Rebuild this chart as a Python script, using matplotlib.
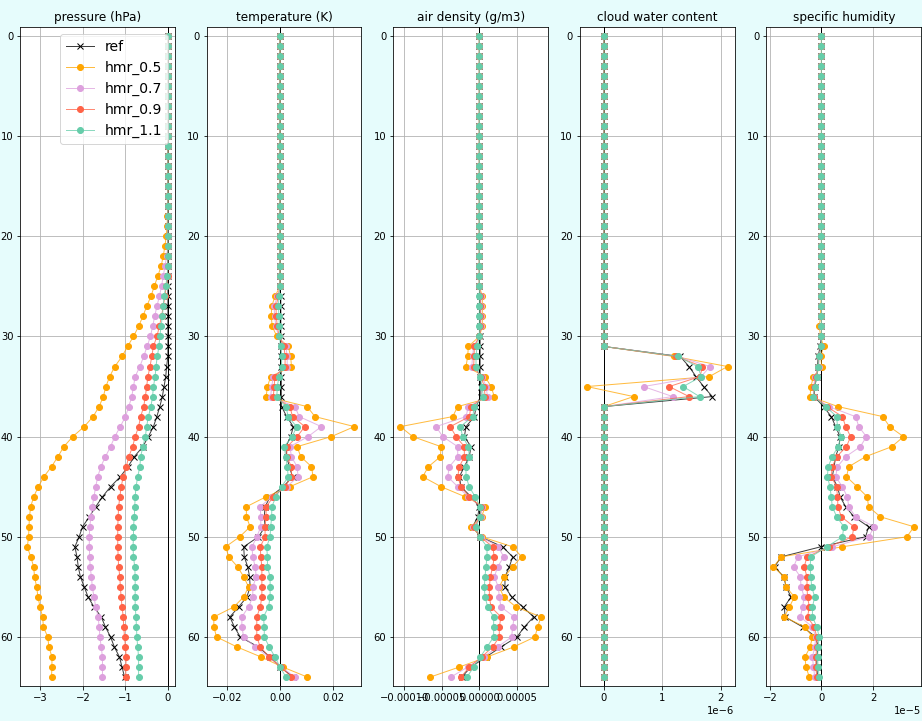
import matplotlib
matplotlib.use("Agg")
import numpy as np
import matplotlib.pyplot as plt
from matplotlib.colors import to_rgba

levels = np.arange(65)
labels = ["ref", "hmr_0.5", "hmr_0.7", "hmr_0.9", "hmr_1.1"]
colors = ["black", "orange", "plum", "tomato", "mediumaquamarine"]

# pressure difference (hPa)
p_ref = [0.0] * 33 + [
    -0.03, -0.05, -0.09, -0.13, -0.19, -0.26, -0.34, -0.46, -0.59, -0.79,
    -0.94, -1.12, -1.35, -1.54, -1.70, -1.85, -2.01, -2.09, -2.19, -2.14,
    -2.11, -2.06, -1.97, -1.88, -1.74, -1.57, -1.47, -1.35, -1.26, -1.14,
    -1.08, -1.02]
p_05 = [0.0] * 18 + [
    -0.01, -0.02, -0.04, -0.07, -0.11, -0.16, -0.24, -0.32, -0.40, -0.50,
    -0.59, -0.69, -0.81, -0.95, -1.08, -1.25, -1.37, -1.46, -1.52, -1.62,
    -1.76, -1.97, -2.24, -2.45, -2.59, -2.74, -2.92, -3.05, -3.16, -3.23,
    -3.26, -3.27, -3.28, -3.31, -3.23, -3.16, -3.14, -3.09, -3.06, -3.01,
    -2.95, -2.93, -2.83, -2.80, -2.73, -2.73, -2.74]
p_07 = [0.0] * 22 + [
    -0.03, -0.07, -0.11, -0.15, -0.20, -0.26, -0.31, -0.36, -0.41, -0.49,
    -0.57, -0.66, -0.77, -0.81, -0.85, -0.92, -1.00, -1.12, -1.25, -1.35,
    -1.47, -1.58, -1.65, -1.70, -1.74, -1.78, -1.81, -1.84, -1.85, -1.85,
    -1.84, -1.83, -1.80, -1.78, -1.74, -1.70, -1.64, -1.62, -1.60, -1.57,
    -1.54, -1.54, -1.54]
p_09 = [0.0] * 25 + [
    -0.04, -0.07, -0.11, -0.15, -0.20, -0.26, -0.34, -0.38, -0.42, -0.47,
    -0.50, -0.53, -0.57, -0.64, -0.69, -0.77, -0.83, -0.92, -0.98, -1.05,
    -1.10, -1.13, -1.16, -1.17, -1.18, -1.18, -1.18, -1.17, -1.16, -1.13,
    -1.12, -1.10, -1.08, -1.05, -1.04, -1.02, -1.00, -0.98, -0.99, -0.99]
p_11 = [0.0] * 24 + [
    -0.02, -0.05, -0.09, -0.11, -0.13, -0.16, -0.19, -0.21, -0.25, -0.28,
    -0.30, -0.34, -0.36, -0.40, -0.46, -0.50, -0.53, -0.59, -0.64, -0.66,
    -0.71, -0.75, -0.77, -0.78, -0.79, -0.81, -0.81, -0.82, -0.81, -0.78,
    -0.77, -0.77, -0.77, -0.77, -0.75, -0.74, -0.73, -0.71, -0.69, -0.69,
    -0.69]

# temperature difference, in 1e-3 K
t_scale = 1e-3
t_ref = [0.0] * 26 + [
    0.3, 0.3, 0.3, 0.3, 0.3, 0.3, 0.3, 0.3, 0.5, 0.5,
    0.5, 0.6, 2.5, 5.0, 4.0, 2.2, 2.5, 3.5, 4.7, 1.2,
    -3.7, -5.6, -5.9, -5.6, -8.1, -13.6, -13.4, -12.1, -11.4, -11.2,
    -12.4, -15.5, -18.8, -17.1, -14.9, -8.1, -3.7, 0.0, 5.0]
t_05 = [0.0] * 26 + [
    -1.9, -3.1, -3.3, -2.9, -1.2, 3.1, 4.0, 4.3, -3.5, -4.7,
    -5.2, 10.2, 13.1, 27.9, 19.2, 6.4, 7.8, 11.8, 12.4, 3.7,
    -5.2, -12.6, -12.6, -11.2, -15.1, -20.4, -19.2, -15.9, -13.6, -11.8,
    -13.6, -17.3, -24.8, -24.8, -23.8, -16.1, -7.1, 1.0, 10.2]
t_07 = [0.0] * 26 + [
    -1.0, -2.2, -2.0, -1.5, -0.5, 2.2, 2.7, 2.7, -2.5, -3.1,
    -3.5, 5.6, 7.2, 15.5, 10.5, 3.7, 4.3, 6.4, 6.8, 2.5,
    -3.1, -7.4, -7.2, -7.2, -8.7, -10.5, -10.2, -9.3, -8.9, -10.2,
    -10.2, -11.8, -14.3, -14.3, -13.6, -9.3, -4.3, 0.4, 5.6]
t_09 = [0.0] * 26 + [
    -0.6, -1.5, -1.4, -1.0, -0.3, 1.5, 1.9, 1.9, -1.9, -2.2,
    -2.5, 3.7, 4.7, 9.3, 6.4, 2.7, 2.5, 4.3, 4.3, 1.9,
    -2.5, -5.2, -5.2, -5.6, -5.6, -7.4, -7.2, -6.8, -6.8, -6.8,
    -6.8, -7.4, -8.7, -8.7, -8.7, -7.4, -4.0, 0.4, 4.3]
t_11 = [0.0] * 26 + [
    -0.4, -0.6, -0.4, -0.2, -0.2, 0.2, 0.6, 0.6, -0.4, -1.0,
    -1.2, 2.2, 3.1, 6.2, 4.6, 1.5, 2.2, 2.7, 3.1, 0.6,
    -1.5, -3.1, -3.1, -3.5, -3.7, -5.0, -4.7, -4.7, -3.7, -3.7,
    -3.7, -4.3, -6.2, -5.9, -5.9, -4.0, -1.9, 0.0, 2.2]

# air density difference, in 1e-5 g/m3
rho_scale = 1e-5
rho_ref = [0.0] * 26 + [
    0.1, 0.1, 0.1, 0.1, 0.1, 0.1, 0.1, 0.1, 0.1, 0.2,
    0.2, -0.44, -0.66, -1.77, -1.99, -1.11, -1.33, -1.99, -2.65, -2.43,
    -1.11, 0.0, -0.22, -0.88, 0.13, 3.09, 4.42, 3.98, 3.40, 3.40,
    4.29, 5.75, 7.21, 5.97, 5.00, 2.87, 0.88, -1.11, -2.34]
rho_05 = [0.0] * 26 + [
    0.4, 0.4, 0.4, 0.4, 0.0, -1.46, -1.55, -1.77, 0.75, 1.55,
    1.99, -2.87, -3.54, -10.48, -8.84, -5.08, -5.17, -6.76, -7.52, -5.08,
    -1.90, 0.75, 0.31, -1.11, 0.31, 4.42, 5.61, 4.42, 3.32, 2.65,
    3.23, 4.86, 8.18, 7.74, 7.38, 4.55, 1.02, -2.65, -6.50]
rho_07 = [0.0] * 26 + [
    0.2, 0.2, 0.2, 0.2, 0.0, -0.75, -0.90, -1.00, 0.40, 0.88,
    1.10, -1.46, -1.77, -5.75, -4.86, -2.87, -2.87, -3.98, -4.20, -2.87,
    -1.46, 0.31, 0.22, -0.88, 0.22, 2.52, 3.23, 2.43, 1.99, 2.52,
    2.65, 2.87, 4.64, 4.42, 4.29, 2.43, 0.57, -1.55, -3.76]
rho_09 = [0.0] * 26 + [
    0.1, 0.1, 0.1, 0.1, 0.0, -0.66, -0.70, -0.75, 0.20, 0.66,
    0.75, -1.11, -1.33, -3.85, -3.09, -1.99, -1.99, -2.65, -2.87, -2.43,
    -1.33, 0.22, 0.13, -0.66, 0.13, 1.77, 1.99, 1.77, 1.46, 1.33,
    1.33, 1.55, 2.87, 2.65, 2.65, 1.77, 0.31, -1.33, -2.43]
rho_11 = [0.0] * 26 + [
    0.0, 0.0, 0.0, 0.0, 0.0, -0.31, -0.44, -0.44, 0.13, 0.35,
    0.53, -0.66, -0.88, -2.52, -2.21, -1.46, -1.33, -1.77, -1.77, -1.33,
    -0.57, 0.13, 0.13, -0.44, 0.04, 1.02, 1.02, 0.88, 0.75, 0.66,
    0.75, 1.11, 1.90, 1.90, 1.90, 1.02, 0.13, -0.75, -1.64]

# cloud water content difference, in 1e-6 (non-zero only on levels 32-36)
cw_scale = 1e-6
cw_ref = [0.0] * 32 + [1.31, 1.46, 1.58, 1.71, 1.86] + [0.0] * 28
cw_05 = [0.0] * 32 + [1.21, 2.12, 1.81, -0.29, 0.51] + [0.0] * 28
cw_07 = [0.0] * 32 + [1.27, 1.82, 1.67, 0.68, 1.18] + [0.0] * 28
cw_09 = [0.0] * 32 + [1.24, 1.69, 1.65, 1.12, 1.46] + [0.0] * 28
cw_11 = [0.0] * 32 + [1.27, 1.61, 1.67, 1.36, 1.64] + [0.0] * 28

# specific humidity difference, in 1e-5
q_scale = 1e-5
q_ref = [0.0] * 26 + [
    0.0, 0.0, 0.0, 0.0, 0.0, -0.05, -0.13, -0.15, -0.18, -0.26,
    -0.28, 0.08, 0.38, 0.55, 0.72, 0.68, 0.55, 0.49, 0.42, 0.62,
    0.72, 0.94, 1.26, 1.83, 1.71, -0.03, -1.56, -1.82, -1.46, -1.37,
    -1.18, -1.44, -1.41, -0.73, -0.22, -0.13, -0.18, -0.18, -0.15]
q_05 = [0.0] * 26 + [
    0.0, -0.03, -0.03, -0.09, -0.03, 0.08, -0.03, 0.01, -0.31, -0.41,
    -0.44, 0.64, 2.38, 2.64, 3.18, 2.73, 1.71, 1.06, 0.97, 1.38,
    1.77, 1.83, 2.28, 3.59, 3.31, 0.81, -1.56, -1.86, -1.44, -1.37,
    -1.05, -1.24, -1.44, -0.64, -0.35, -0.44, -0.64, -0.60, -0.47]
q_07 = [0.0] * 26 + [
    0.0, 0.0, 0.0, 0.0, 0.0, 0.0, -0.10, -0.10, -0.25, -0.30,
    -0.30, 0.29, 1.32, 1.45, 1.74, 1.51, 0.94, 0.62, 0.55, 0.81,
    1.00, 1.06, 1.32, 2.05, 1.83, 0.42, -0.92, -1.08, -0.82, -0.79,
    -0.67, -0.73, -0.82, -0.35, -0.22, -0.26, -0.35, -0.31, -0.26]
q_09 = [0.0] * 26 + [
    0.0, 0.0, 0.0, 0.0, 0.0, 0.0, -0.10, -0.12, -0.20, -0.28,
    -0.30, 0.21, 0.81, 0.94, 1.13, 0.97, 0.59, 0.42, 0.38, 0.59,
    0.62, 0.64, 0.77, 1.26, 1.19, 0.29, -0.56, -0.67, -0.56, -0.56,
    -0.54, -0.47, -0.54, -0.28, -0.18, -0.18, -0.22, -0.22, -0.18]
q_11 = [0.0] * 26 + [
    0.0, 0.0, 0.0, 0.0, 0.0, 0.0, -0.09, -0.13, -0.18, -0.26,
    -0.31, 0.17, 0.59, 0.62, 0.77, 0.64, 0.42, 0.26, 0.23, 0.33,
    0.38, 0.42, 0.59, 0.87, 0.81, 0.21, -0.41, -0.44, -0.41, -0.38,
    -0.26, -0.35, -0.35, -0.18, -0.09, -0.13, -0.15, -0.13, -0.09]

panels = [
    ("pressure (hPa)", 1.0, [p_ref, p_05, p_07, p_09, p_11]),
    ("temperature (K)", t_scale, [t_ref, t_05, t_07, t_09, t_11]),
    ("air density (g/m3)", rho_scale, [rho_ref, rho_05, rho_07, rho_09, rho_11]),
    ("cloud water content", cw_scale, [cw_ref, cw_05, cw_07, cw_09, cw_11]),
    ("specific humidity", q_scale, [q_ref, q_05, q_07, q_09, q_11]),
]

fig, axs = plt.subplots(1, 5, figsize=(922 / 72, 721 / 72), dpi=72,
                        facecolor="#e6fcfc")
fig.subplots_adjust(left=0.022, right=0.999, top=0.9626, bottom=0.0485,
                    wspace=0.2065)

for ax, (title, scale, series) in zip(axs, panels):
    ax.axvline(0, color="black", lw=1)
    for i, vals in enumerate(series):
        x = np.array(vals) * scale
        # slightly faded connecting lines, solid markers
        ax.plot(x, levels, color=to_rgba(colors[i], 0.75), lw=1,
                marker="x" if i == 0 else "o",
                markerfacecolor=colors[i], markeredgecolor=colors[i],
                label=labels[i])
    ax.set_title(title)
    ax.set_ylim(64.9, -0.9)
    ax.set_yticks(range(0, 61, 10))
    ax.grid(True)

axs[0].legend(loc="upper right", fontsize=14)

plt.savefig("out.png", dpi=72, facecolor=fig.get_facecolor())
